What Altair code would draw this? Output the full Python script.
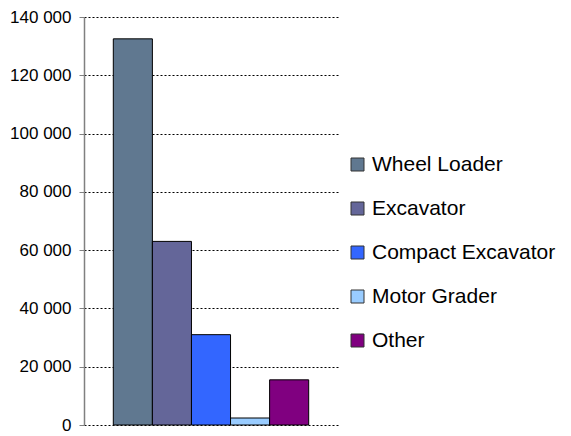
import altair as alt
import pandas as pd

series = ["Wheel Loader", "Excavator", "Compact Excavator", "Motor Grader", "Other"]
values = [132500, 63000, 31000, 2400, 15500]
colors = ["#607890", "#646699", "#3366FF", "#99CCFF", "#800080"]

df = pd.DataFrame({"series": series, "value": values})

bars = alt.Chart(df).mark_bar(stroke="black", strokeWidth=1).encode(
    x=alt.X("series:N", sort=series, axis=None,
            scale=alt.Scale(paddingInner=0, paddingOuter=0.75)),
    y=alt.Y("value:Q",
            scale=alt.Scale(domain=[0, 140000], nice=False),
            axis=alt.Axis(
                values=[0, 20000, 40000, 60000, 80000, 100000, 120000, 140000],
                title=None,
                labelExpr="replace(format(datum.value, ','), ',', ' ')",
                labelFont="Liberation Sans", labelFontSize=17, labelColor="black",
                labelPadding=8, tickSize=5, tickColor="#808080",
                domainColor="#808080", domainWidth=1.5,
                grid=True, gridColor="black", gridDash=[2, 2], gridWidth=1,
            )),
    color=alt.Color("series:N", sort=series,
                    scale=alt.Scale(domain=series, range=colors),
                    legend=alt.Legend(
                        title=None, orient="none", legendX=263, legendY=137,
                        symbolType="square", symbolSize=169, symbolStrokeColor="#333333",
                        symbolStrokeWidth=1, symbolOpacity=1,
                        labelFont="Liberation Sans", labelFontSize=21, labelColor="black",
                        labelLimit=400, labelOffset=4, rowPadding=22,
                    )),
)

chart = bars.properties(
    width=254, height=408,
    autosize=alt.AutoSizeParams(type="none"),
    padding={"left": 76, "top": 9, "right": 224, "bottom": 8},
).configure(background="white").configure_view(stroke=None)

chart.save("out.html", embed_options={"renderer": "svg", "actions": False})
